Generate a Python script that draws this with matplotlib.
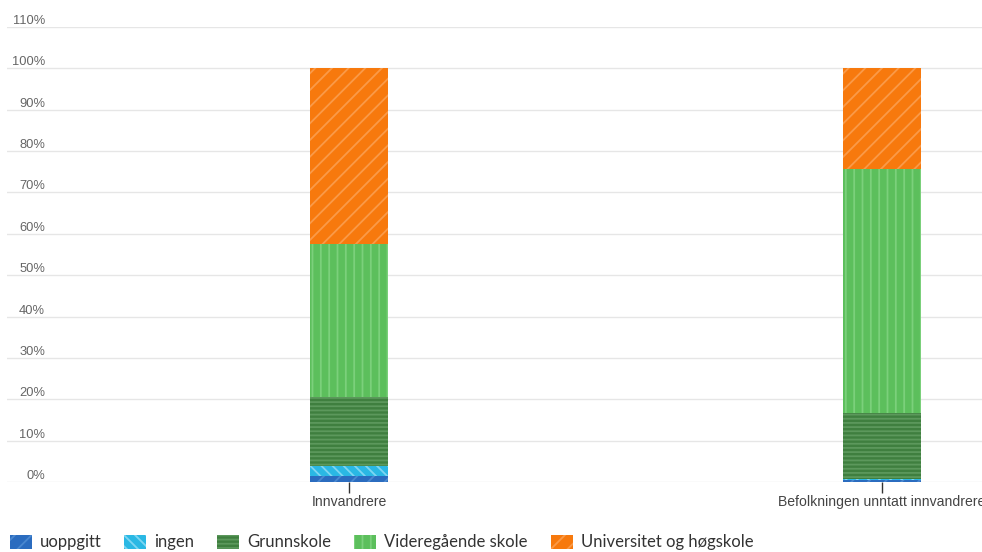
import matplotlib
matplotlib.use("Agg")
import matplotlib.pyplot as plt
from matplotlib.patches import Patch

categories = ["Innvandrere", "Befolkningen unntatt innvandrere"]
series_names = ["uoppgitt", "ingen", "Grunnskole", "Videregående skole", "Universitet og høgskole"]
uoppgitt = [1.5, 0.6]
ingen = [2.4, 0.1]
grunnskole = [16.6, 16.0]
videregaende = [37.0, 58.9]
universitet = [42.5, 24.4]
yticks = list(range(0, 111, 10))
ytick_labels = [f"{v}%" for v in yticks]

values = [uoppgitt, ingen, grunnskole, videregaende, universitet]
colors = ["#2b6cbf", "#2ab8e4", "#3f7f3f", "#5cbf5c", "#f7790d"]
hatch_colors = ["#4a88d0", "#7ed6f2", "#5c985c", "#7bd07b", "#fa9a48"]
hatches = ["//", "\\\\\\", "----", "||", "//"]

plt.rcParams["hatch.linewidth"] = 1.3

fig = plt.figure(figsize=(9.82, 5.52), dpi=100)
W, H = 982, 552
ax = fig.add_axes([7 / W, (H - 482) / H, (982 - 7) / W, (482 - 27) / H])

x = list(range(len(categories)))
bottoms = [0.0] * len(categories)
for name, vals, c, hc, h in zip(series_names, values, colors, hatch_colors, hatches):
    ax.bar(x, vals, width=0.148, bottom=bottoms, color=c, edgecolor=hc,
           linewidth=0, hatch=h, zorder=3)
    bottoms = [b + v for b, v in zip(bottoms, vals)]

ax.set_xlim((7 - 349) / 533, (982 - 349) / 533)
ax.set_ylim(0, 110)
ax.set_yticks(yticks, ytick_labels)
ax.set_xticks(x, categories)
for s in ax.spines.values():
    s.set_visible(False)
ax.grid(axis="y", color="#e6e6e6", linewidth=1, zorder=0)
ax.tick_params(axis="y", length=0, pad=-27.4, labelsize=9.3, labelcolor="#666666")
ax.tick_params(axis="x", length=8, width=1, color="#333333", labelsize=10.1,
               labelcolor="#444444", pad=1.5)
for lab in ax.get_yticklabels():
    lab.set_fontfamily("Liberation Sans")
    lab.set_verticalalignment("bottom")
for lab in ax.get_xticklabels():
    lab.set_fontfamily("Liberation Sans")

handles = [Patch(facecolor=c, edgecolor=hc, linewidth=0, hatch=h)
           for c, hc, h in zip(colors, hatch_colors, hatches)]
fig.legend(handles, series_names, loc="lower left", bbox_to_anchor=(8 / W, 0.0),
           ncol=5, frameon=False, prop={"family": "Lato", "size": 12},
           handlelength=1.32, handleheight=0.9, handletextpad=0.48,
           columnspacing=1.38, borderpad=0.1, borderaxespad=0,
           labelcolor="#333333")

fig.savefig("out.png", dpi=100)
